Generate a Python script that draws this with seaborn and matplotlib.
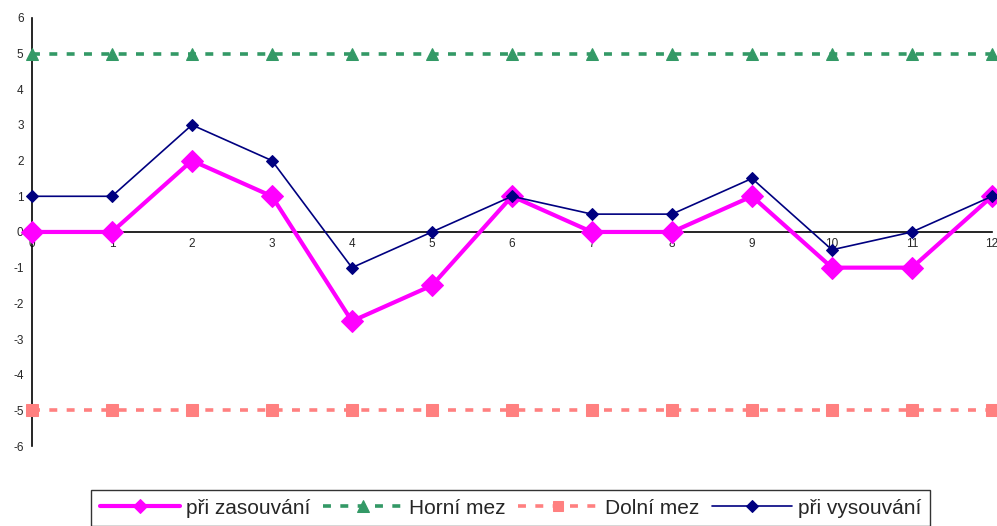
import numpy as np
import pandas as pd
import seaborn as sns
import matplotlib.pyplot as plt

# data
x = [0, 1, 2, 3, 4, 5, 6, 7, 8, 9, 10, 11, 12]
zasouvani = [0, 0, 2, 1, -2.5, -1.5, 1, 0, 0, 1, -1, -1, 1]
vysouvani = [1, 1, 3, 2, -1, 0, 1, 0.5, 0.5, 1.5, -0.5, 0, 1]
horni = [5] * 13
dolni = [-5] * 13
yticks = [-6, -5, -4, -3, -2, -1, 0, 1, 2, 3, 4, 5, 6]

sns.set_style('white')
plt.rcParams['font.family'] = ['Liberation Sans', 'DejaVu Sans']
plt.rcParams['axes.unicode_minus'] = False

fig = plt.figure(figsize=(9.97, 5.26), dpi=100)
ax = fig.add_axes([0.032, 0.152, 0.963, 0.814])

sns.lineplot(x=x, y=zasouvani, ax=ax, color='#FF00FF', lw=3, marker='D',
             markersize=11, markeredgecolor='#FF00FF', label='při zasouvání',
             zorder=4, clip_on=False)
sns.lineplot(x=x, y=horni, ax=ax, color='#339966', lw=2.6, marker='^',
             markersize=9, markeredgecolor='#339966', dashes=(2.2, 2.6),
             label='Horní mez', zorder=3, clip_on=False)
sns.lineplot(x=x, y=dolni, ax=ax, color='#FF8080', lw=2.6, marker='s',
             markersize=8, markeredgecolor='#FF8080', dashes=(2.2, 2.6),
             label='Dolní mez', zorder=3, clip_on=False)
sns.lineplot(x=x, y=vysouvani, ax=ax, color='#000080', lw=1.2, marker='D',
             markersize=6, markeredgecolor='#000080', label='při vysouvání',
             zorder=5, clip_on=False)

ax.set_xlim(0, 12)
ax.set_ylim(-6, 6)
ax.set_xticks(x)
ax.set_yticks(yticks)
ax.spines['top'].set_visible(False)
ax.spines['right'].set_visible(False)
ax.spines['bottom'].set_position(('data', 0))
for s in ['left', 'bottom']:
    ax.spines[s].set_color('black')
    ax.spines[s].set_linewidth(1.2)
ax.tick_params(axis='x', direction='inout', length=7, width=1.2, labelsize=8.5, pad=1)
ax.tick_params(axis='y', direction='out', length=4, width=1.2, labelsize=8.5, pad=2)
ax.grid(False)

handles, labels = ax.get_legend_handles_labels()
ax.get_legend().remove()
leg = fig.legend(handles, labels, loc='upper center', bbox_to_anchor=(0.512, 0.068),
                 ncol=4, fontsize=15, frameon=True, fancybox=False,
                 edgecolor='black', handlelength=3.85, handletextpad=0.3,
                 columnspacing=0.6, borderpad=0.4, borderaxespad=0)
leg.get_frame().set_linewidth(1.0)
# smaller markers in the legend, like the original
for h, ms in zip(leg.legend_handles, [7, 8, 7, 6.5]):
    h.set_markersize(ms)

fig.savefig('out.png', dpi=100)
